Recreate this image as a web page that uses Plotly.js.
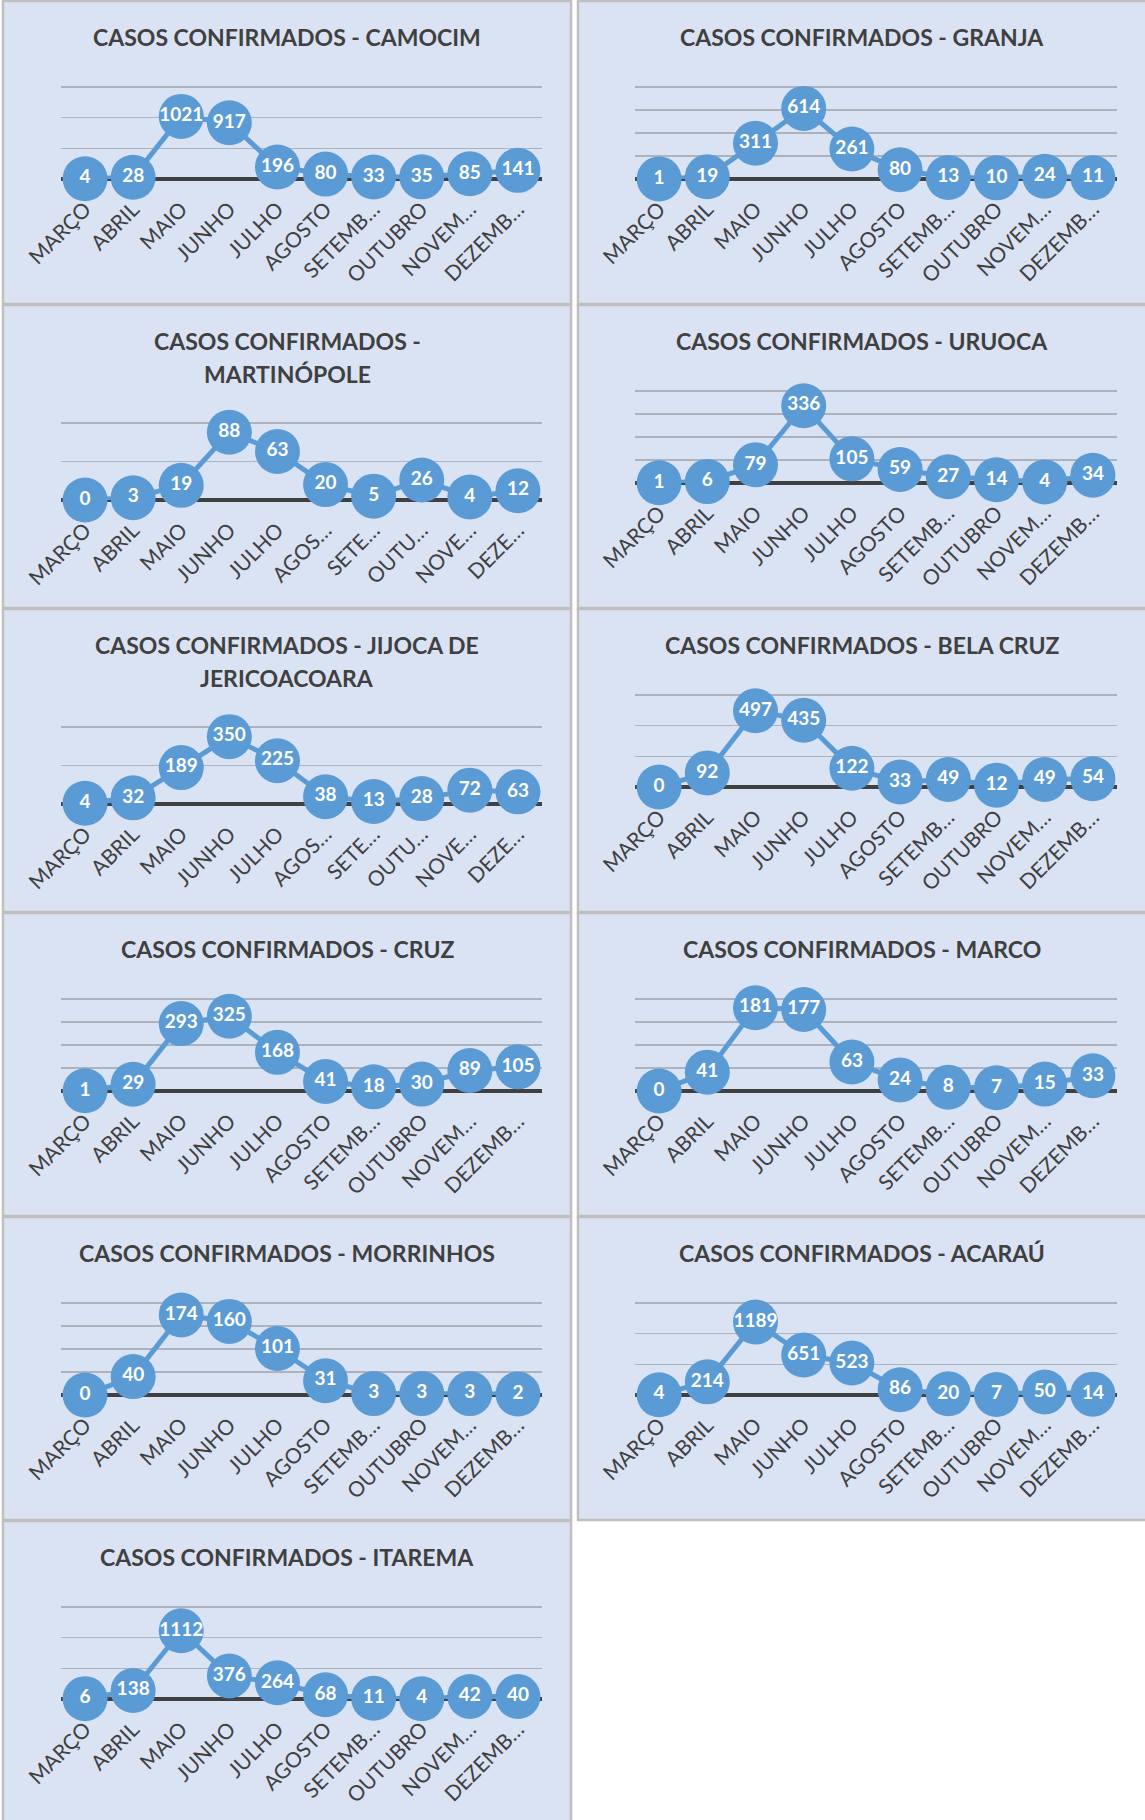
<!DOCTYPE html>
<html><head><meta charset="utf-8">
<script src="https://cdn.plot.ly/plotly-3.0.1.min.js"></script>
<style>html,body{margin:0;padding:0;background:#fff;} #chart{width:1145px;height:1820px;}</style>
</head><body><div id="chart"></div>
<script>
// ---- data ----
const monthsLong = ['MARÇO','ABRIL','MAIO','JUNHO','JULHO','AGOSTO','SETEMB…','OUTUBRO','NOVEM…','DEZEMB…'];
const monthsShort = ['MARÇO','ABRIL','MAIO','JUNHO','JULHO','AGOS…','SETE…','OUTU…','NOVE…','DEZE…'];

const camocim = [4,28,1021,917,196,80,33,35,85,141];
const granja = [1,19,311,614,261,80,13,10,24,11];
const martinopole = [0,3,19,88,63,20,5,26,4,12];
const uruoca = [1,6,79,336,105,59,27,14,4,34];
const jijoca = [4,32,189,350,225,38,13,28,72,63];
const belaCruz = [0,92,497,435,122,33,49,12,49,54];
const cruz = [1,29,293,325,168,41,18,30,89,105];
const marco = [0,41,181,177,63,24,8,7,15,33];
const morrinhos = [0,40,174,160,101,31,3,3,3,2];
const acarau = [4,214,1189,651,523,86,20,7,50,14];
const itarema = [6,138,1112,376,264,68,11,4,42,40];

const titles = [
  ['CASOS CONFIRMADOS - CAMOCIM'],
  ['CASOS CONFIRMADOS - GRANJA'],
  ['CASOS CONFIRMADOS -','MARTINÓPOLE'],
  ['CASOS CONFIRMADOS - URUOCA'],
  ['CASOS CONFIRMADOS - JIJOCA DE','JERICOACOARA'],
  ['CASOS CONFIRMADOS - BELA CRUZ'],
  ['CASOS CONFIRMADOS - CRUZ'],
  ['CASOS CONFIRMADOS - MARCO'],
  ['CASOS CONFIRMADOS - MORRINHOS'],
  ['CASOS CONFIRMADOS - ACARAÚ'],
  ['CASOS CONFIRMADOS - ITAREMA']
];
const series = [camocim, granja, martinopole, uruoca, jijoca, belaCruz, cruz, marco, morrinhos, acarau, itarema];
const tickSets = [monthsLong, monthsLong, monthsShort, monthsLong, monthsShort, monthsLong, monthsLong, monthsLong, monthsLong, monthsLong, monthsLong];
const axisMax = [1500, 800, 100, 400, 400, 600, 400, 200, 200, 1500, 1500];
const axisStep = [500, 200, 50, 100, 200, 200, 100, 50, 50, 500, 500];

// ---- layout geometry ----
const W = 1145, H = 1820;
const cols = [
  {x0: 3, x1: 571, p0: 61, p1: 542, tx: 287},
  {x0: 578, x1: 1155, p0: 635, p1: 1117, tx: 862}
];
const rowTops = [1, 305, 609, 913, 1217, 1521];
const rowBottoms = [304, 608, 912, 1216, 1520, 1835];
const PAD = 0.04; // headroom so the top gridline is not clipped at the plot edge

const BLUE = '#5B9BD5';
const FONT = 'Lato, "Open Sans", sans-serif';
const data = [];
const layout = {
  width: W, height: H,
  margin: {l: 0, r: 0, t: 0, b: 0},
  paper_bgcolor: '#ffffff',
  plot_bgcolor: 'rgba(0,0,0,0)',
  showlegend: false,
  hovermode: false,
  shapes: [],
  annotations: []
};
const fx = p => p / W;
const fy = p => 1 - p / H;

series.forEach((vals, i) => {
  const r = Math.floor(i / 2), c = i % 2;
  const col = cols[c];
  const top = rowTops[r], bot = rowBottoms[r];
  const two = titles[i].length > 1;
  const gTop = top + (two ? 118 : 86);   // pixel of top gridline
  const pBot = top + (two ? 195 : 178);  // pixel of baseline
  const pTop = gTop - PAD * (pBot - gTop);
  const n = i === 0 ? '' : String(i + 1);

  layout.shapes.push({
    type: 'rect', xref: 'paper', yref: 'paper', layer: 'below',
    x0: fx(col.x0), x1: fx(col.x1), y0: fy(bot), y1: fy(top),
    fillcolor: '#DAE3F3', line: {color: '#BFBFBF', width: 2.5}
  });

  titles[i].forEach((t, k) => {
    layout.annotations.push({
      xref: 'paper', yref: 'paper', x: fx(col.tx), y: fy(top + 36 + k * 33),
      xanchor: 'center', yanchor: 'middle', showarrow: false, text: t,
      font: {family: FONT, size: 23, color: '#404040', weight: 'bold'}
    });
  });

  layout['xaxis' + n] = {
    domain: [fx(col.p0), fx(col.p1)], anchor: 'y' + n,
    type: 'category', range: [-0.5, 9.5],
    tickangle: -45, ticks: '', showgrid: false, zeroline: false, showline: false,
    tickfont: {family: FONT, size: 21, color: '#404040'},
    ticklabelstandoff: 13, fixedrange: true
  };
  layout['yaxis' + n] = {
    domain: [fy(pBot), fy(pTop)], anchor: 'x' + n,
    range: [0, axisMax[i] * (1 + PAD)], tick0: 0, dtick: axisStep[i],
    showticklabels: false, ticks: '', showline: false,
    showgrid: true, gridcolor: '#ADB3BD', gridwidth: 1.5,
    zeroline: true, zerolinecolor: '#404040', zerolinewidth: 3.5,
    fixedrange: true
  };

  data.push({
    type: 'scatter', mode: 'lines+markers+text',
    x: tickSets[i], y: vals,
    xaxis: 'x' + n, yaxis: 'y' + n,
    line: {color: BLUE, width: 5},
    marker: {color: BLUE, size: 45},
    text: vals.map(String), textposition: 'middle center',
    textfont: {family: FONT, size: 19, color: '#ffffff', weight: 'bold'},
    cliponaxis: false
  });
});

Plotly.newPlot('chart', data, layout, {staticPlot: true, displayModeBar: false});
</script>
</body></html>
